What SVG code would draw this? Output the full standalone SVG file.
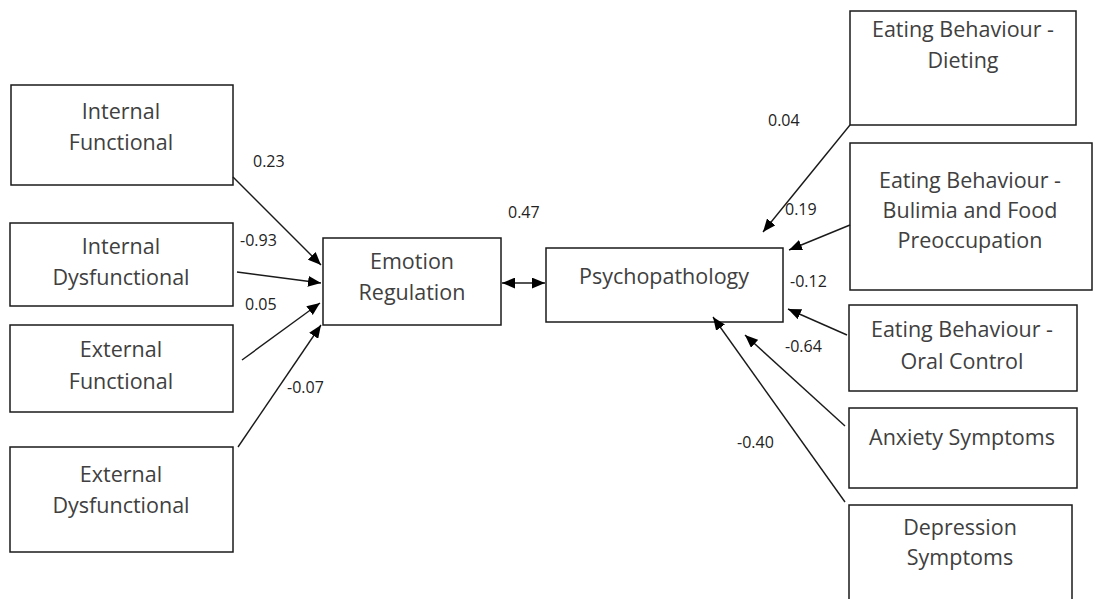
<svg xmlns="http://www.w3.org/2000/svg" width="1095" height="599" viewBox="0 0 1095 599">
<style>
.box{fill:#fff;stroke:#1a1a1a;stroke-width:1.5}
.t{font-family:"Open Sans","Liberation Sans",sans-serif;font-size:21.5px;fill:#404040;text-anchor:middle}
.l{font-family:"Open Sans","Liberation Sans",sans-serif;font-size:16px;fill:#222}
.c{stroke:#1a1a1a;stroke-width:1.4;fill:none}
</style>
<defs>
<marker id="ah" viewBox="0 0 12 10" refX="12" refY="5" markerWidth="13" markerHeight="11" markerUnits="userSpaceOnUse" orient="auto-start-reverse">
<path d="M0,0 L12,5 L0,10 Z" fill="#000"/>
</marker>
</defs>
<rect width="1095" height="599" fill="#fff"/>
<g id="internal-functional"><rect class="box" x="11" y="85" width="222" height="100"/><text class="t" x="121" y="119">Internal</text><text class="t" x="121" y="150">Functional</text></g>
<g id="internal-dysfunctional"><rect class="box" x="10" y="223" width="223" height="83"/><text class="t" x="121" y="254">Internal</text><text class="t" x="121" y="285">Dysfunctional</text></g>
<g id="external-functional"><rect class="box" x="10" y="325" width="223" height="87"/><text class="t" x="121" y="357">External</text><text class="t" x="121" y="389">Functional</text></g>
<g id="external-dysfunctional"><rect class="box" x="10" y="447" width="223" height="105"/><text class="t" x="121" y="482">External</text><text class="t" x="121" y="513">Dysfunctional</text></g>
<g id="emotion-regulation"><rect class="box" x="323" y="238" width="178" height="87"/><text class="t" x="412" y="269">Emotion</text><text class="t" x="412" y="300">Regulation</text></g>
<g id="psychopathology"><rect class="box" x="546" y="248" width="237" height="74"/><text class="t" x="664" y="284">Psychopathology</text></g>
<g id="eb-dieting"><rect class="box" x="850" y="11" width="226" height="114"/><text class="t" x="963" y="37">Eating Behaviour -</text><text class="t" x="963" y="68">Dieting</text></g>
<g id="eb-bulimia"><rect class="box" x="850" y="143" width="242" height="147"/><text class="t" x="970" y="188">Eating Behaviour -</text><text class="t" x="970" y="218">Bulimia and Food</text><text class="t" x="970" y="248">Preoccupation</text></g>
<g id="eb-oral-control"><rect class="box" x="849" y="305" width="228" height="86"/><text class="t" x="962" y="337">Eating Behaviour -</text><text class="t" x="962" y="369">Oral Control</text></g>
<g id="anxiety"><rect class="box" x="849" y="408" width="228" height="80"/><text class="t" x="962" y="445">Anxiety Symptoms</text></g>
<g id="depression"><rect class="box" x="849" y="505" width="223" height="100"/><text class="t" x="960" y="535">Depression</text><text class="t" x="960" y="565">Symptoms</text></g>
<g id="connectors">
<line class="c" x1="233" y1="177" x2="321" y2="265" marker-end="url(#ah)"/>
<line class="c" x1="237" y1="272" x2="321" y2="283" marker-end="url(#ah)"/>
<line class="c" x1="242" y1="360" x2="320" y2="303" marker-end="url(#ah)"/>
<line class="c" x1="238" y1="447" x2="321" y2="325" marker-end="url(#ah)"/>
<line class="c" x1="502" y1="283" x2="545" y2="283" marker-start="url(#ah)" marker-end="url(#ah)"/>
<line class="c" x1="850" y1="125" x2="763" y2="232" marker-end="url(#ah)"/>
<line class="c" x1="850" y1="225" x2="789" y2="250" marker-end="url(#ah)"/>
<line class="c" x1="847" y1="335" x2="788" y2="309" marker-end="url(#ah)"/>
<line class="c" x1="845" y1="426" x2="745" y2="335" marker-end="url(#ah)"/>
<line class="c" x1="845" y1="502" x2="713" y2="317" marker-end="url(#ah)"/>
</g>
<g id="labels">
<text class="l" x="253" y="167">0.23</text>
<text class="l" x="240" y="246">-0.93</text>
<text class="l" x="245" y="310">0.05</text>
<text class="l" x="287" y="393">-0.07</text>
<text class="l" x="508" y="218">0.47</text>
<text class="l" x="768" y="126">0.04</text>
<text class="l" x="785" y="215">0.19</text>
<text class="l" x="790" y="287">-0.12</text>
<text class="l" x="785" y="352">-0.64</text>
<text class="l" x="737" y="448">-0.40</text>
</g>
</svg>
